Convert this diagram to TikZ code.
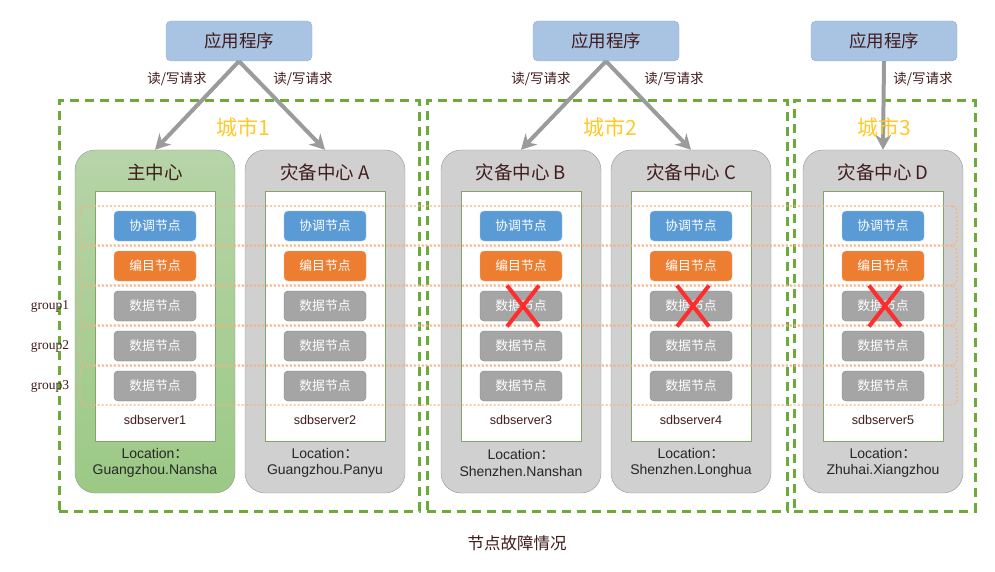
\documentclass[tikz,border=0pt]{standalone}
\usepackage{fontspec}
\setmainfont{Liberation Sans}
\newfontfamily\cjk{Noto Sans CJK SC}
\newfontfamily\grpfont{Liberation Serif}
\usetikzlibrary{arrows.meta,
                shapes.misc}

\definecolor{txtbrown}{RGB}{64,28,28}
\definecolor{appblue}{RGB}{169,196,227}
\definecolor{appedge}{RGB}{140,170,210}
\definecolor{citygreen}{RGB}{108,170,58}
\definecolor{cityyellow}{RGB}{255,200,40}
\definecolor{dcgrayfill}{RGB}{208,208,208}
\definecolor{dcedge}{RGB}{150,150,150}
\definecolor{greentop}{RGB}{182,212,168}
\definecolor{greenbot}{RGB}{156,201,134}
\definecolor{srvedge}{RGB}{130,165,105}
\definecolor{crdblue}{RGB}{91,155,213}
\definecolor{catorange}{RGB}{237,125,49}
\definecolor{datgray}{RGB}{165,165,165}
\definecolor{rowline}{RGB}{244,177,131}
\definecolor{arrowgray}{RGB}{155,155,155}
\definecolor{crossred}{RGB}{255,45,45}

\begin{document}
\begin{tikzpicture}[
x = 1pt, y = -1pt,
     app/.style = {rectangle, rounded corners=5pt, draw=appedge, fill=appblue,
                   minimum width=146, minimum height=40,
                   font=\cjk\fontsize{17.5}{20}\selectfont, text=txtbrown},
     req/.style = {draw=arrowgray, line width=4pt,
                   -{Stealth[length=15pt, width=16pt]}},
reqlabel/.style = {font=\cjk\fontsize{13.5}{16}\selectfont, text=txtbrown},
    city/.style = {draw=citygreen, line width=3pt, dash pattern=on 9pt off 6pt,
                   minimum width=360, minimum height=410, inner sep=0pt},
citylabel/.style = {font=\cjk\fontsize{21}{24}\selectfont, text=cityyellow},
      dc/.style = {rectangle, rounded corners=20pt, draw=dcedge,
                   minimum width=160, minimum height=343},
  dcgray/.style = {dc, fill=dcgrayfill},
 dcgreen/.style = {dc, top color=greentop, bottom color=greenbot},
 dctitle/.style = {font=\cjk\fontsize{18.5}{21}\selectfont, text=txtbrown},
     srv/.style = {draw=srvedge, fill=white, minimum width=120, minimum height=250},
    role/.style = {rectangle, rounded corners=4pt, inner sep=0pt,
                   minimum width=82, minimum height=30, text=white,
                   font=\cjk\fontsize{12.8}{14}\selectfont},
     crd/.style = {role, fill=crdblue, draw=crdblue!60},
     cat/.style = {role, fill=catorange, draw=catorange!60},
     dat/.style = {role, fill=datgray, draw=datgray!80!black},
 srvname/.style = {font=\fontsize{12.6}{14}\selectfont, text=txtbrown},
     loc/.style = {align=center, font=\fontsize{14}{16.5}\selectfont, text=black!85},
     row/.style = {draw=rowline, rounded corners=5pt, line width=1.2pt,
                   dash pattern=on 2pt off 2pt,
                   minimum width=877, minimum height=39},
     grp/.style = {font=\grpfont\fontsize{13.5}{15}\selectfont, text=txtbrown},
   xmark/.style = {cross out, draw=crossred, line width=4pt,
                   minimum width=28, minimum height=37},
 caption/.style = {font=\cjk\fontsize{16.5}{19}\selectfont, text=txtbrown},
                        ]
\useasboundingbox (0,0) rectangle (995,572);
% cities
\node[city] (city1) at (239,306) {};
\node[city] (city2) at (607,306) {};
\node[city, minimum width=181] (city3) at (884.5,306) {};
% data centres
\foreach \x/\kind/\ttl/\place [count=\i] in {
    155/dcgreen/主中心/Guangzhou.Nansha,
    325/dcgray/灾备中心 A/Guangzhou.Panyu,
    521/dcgray/灾备中心 B/Shenzhen.Nanshan,
    691/dcgray/灾备中心 C/Shenzhen.Longhua,
    883/dcgray/灾备中心 D/Zhuhai.Xiangzhou}
{
\node[\kind] (dc\i) at (\x,321.5) {};
\node[dctitle] (ttl\i) at (\x,172) {\ttl};
\node[srv] (srv\i) at (\x,316) {};
\node[srvname] (name\i) at (\x,420) {sdbserver\i};
\node[loc] (loc\i) at (\x,463) {Location{\cjk ：}\\\place};
}
% groups
\foreach \k in {1,...,5}
    \node[row] (row\k) at (518.5,185.5+40*\k) {};
\foreach \k in {1,2,3}
    \node[grp] (grp\k) at (50,266+40*\k) {group\k};
% nodes per server
\foreach \x [count=\i] in {155,325,521,691,883}
{
\node[crd] (crd\i) at (\x,226) {协调节点};
\node[cat] (cat\i) at (\x,266) {编目节点};
\foreach \k in {1,2,3}
    \node[dat] (dat\i-\k) at (\x,266+40*\k) {数据节点};
}
\foreach \i in {3,4,5}
    \node[xmark] (fail\i) at ([xshift=2pt]dat\i-1) {};
% applications
\node[app] (app1) at (239,41) {应用程序};
\node[app] (app2) at (606,41) {应用程序};
\node[app] (app3) at (884,41) {应用程序};
\draw[req] (app1.south) -- (dc1.north);
\draw[req] (app1.south) -- (dc2.north);
\draw[req] (app2.south) -- (dc3.north);
\draw[req] (app2.south) -- (dc4.north);
\draw[req] (app3.south) -- (dc5.north);
\foreach \x [count=\j] in {177,303,541,674,923}
    \node[reqlabel] (req\j) at (\x,79) {读/写请求};
\node[citylabel] (cname1) at (243,127) {城市1};
\node[citylabel] (cname2) at (610,127) {城市2};
\node[citylabel] (cname3) at (884,127) {城市3};
\node[caption] (cap) at (517,543) {节点故障情况};
\end{tikzpicture}
\end{document}
